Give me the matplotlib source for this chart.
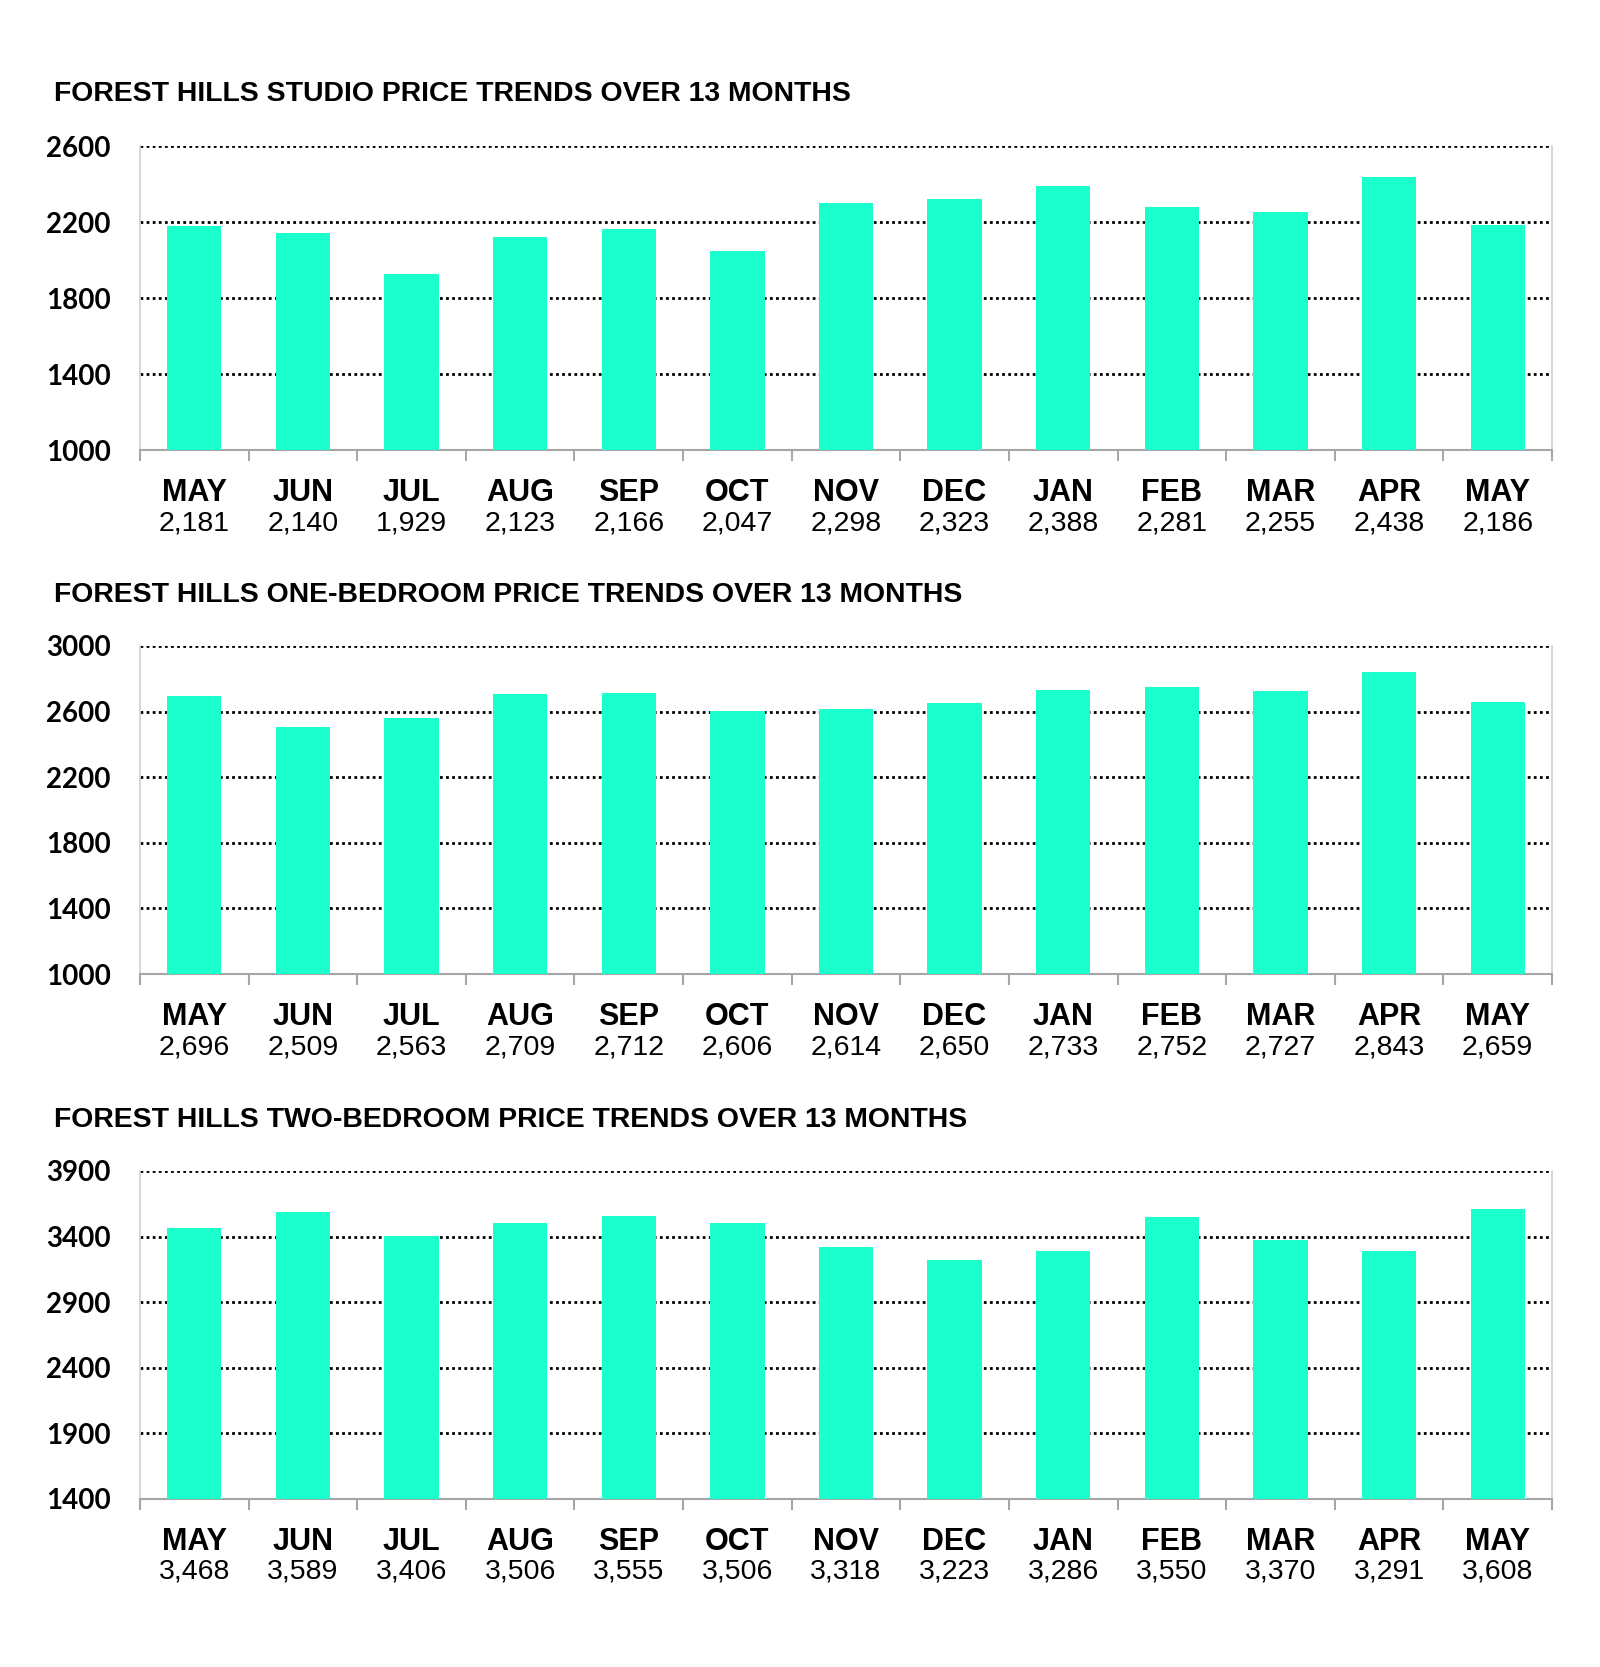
import matplotlib.pyplot as plt
import numpy as np

months = ['MAY', 'JUN', 'JUL', 'AUG', 'SEP', 'OCT', 'NOV', 'DEC', 'JAN', 'FEB', 'MAR', 'APR', 'MAY']
studio = [2181, 2140, 1929, 2123, 2166, 2047, 2298, 2323, 2388, 2281, 2255, 2438, 2186]
one_bed = [2696, 2509, 2563, 2709, 2712, 2606, 2614, 2650, 2733, 2752, 2727, 2843, 2659]
two_bed = [3468, 3589, 3406, 3506, 3555, 3506, 3318, 3223, 3286, 3550, 3370, 3291, 3608]

titles = ['FOREST HILLS STUDIO PRICE TRENDS OVER 13 MONTHS',
          'FOREST HILLS ONE-BEDROOM PRICE TRENDS OVER 13 MONTHS',
          'FOREST HILLS TWO-BEDROOM PRICE TRENDS OVER 13 MONTHS']
yticks = [np.arange(1000, 2601, 400), np.arange(1000, 3001, 400), np.arange(1400, 3901, 500)]

BAR = '#1affcc'

fig = plt.figure(figsize=(16, 16.67), dpi=100)

# [bottom, height, title y]
boxes = [(0.730, 0.1824, 0.9436), (0.4157, 0.1968, 0.643), (0.1008, 0.1968, 0.3281)]

for data, title, ticks, (bot, h, ty) in zip([studio, one_bed, two_bed], titles, yticks, boxes):
    ax = fig.add_axes([0.0875, bot, 0.8825, h])
    x = np.arange(len(data))
    ax.bar(x, data, width=0.5, color=BAR, zorder=3)
    ax.set_xlim(-0.5, len(data) - 0.5)
    ax.set_ylim(ticks[0], ticks[-1])
    ax.set_yticks(ticks)
    ax.set_yticklabels([str(t) for t in ticks], fontfamily='Lato', fontweight='bold', fontsize=20)
    ax.tick_params(axis='y', length=0, pad=21)
    ax.grid(axis='y', color='black', linestyle=(0, (1, 1.2)), linewidth=2, zorder=1)

    # ticks between categories
    ax.set_xticks(x)
    ax.set_xticklabels([])
    ax.tick_params(axis='x', which='major', length=0)
    ax.set_xticks(np.arange(-0.5, len(data), 1), minor=True)
    ax.tick_params(axis='x', which='minor', length=8, width=1.5, color='#a6a6a6', direction='out')

    ax.spines['top'].set_visible(False)
    for s in ['left', 'right']:
        ax.spines[s].set_color('#d0d0d0')
        ax.spines[s].set_linewidth(1.2)
    ax.spines['bottom'].set_color('#a6a6a6')
    ax.spines['bottom'].set_linewidth(1.5)

    for xi, m, v in zip(x, months, data):
        ax.annotate(m, xy=(xi, 0), xycoords=('data', 'axes fraction'),
                    xytext=(0, -43), textcoords='offset pixels',
                    ha='center', va='center', fontfamily='Liberation Sans',
                    fontweight='bold', fontsize=22)
        ax.annotate(f'{v:,}', xy=(xi, 0), xycoords=('data', 'axes fraction'),
                    xytext=(0, -73), textcoords='offset pixels',
                    ha='center', va='center', fontfamily='Liberation Sans',
                    fontsize=20.5)

    fig.text(0.034, ty, title, ha='left', va='center', fontfamily='Liberation Sans',
             fontweight='bold', fontsize=20.4)

fig.savefig('out.png', dpi=100, facecolor='white')
